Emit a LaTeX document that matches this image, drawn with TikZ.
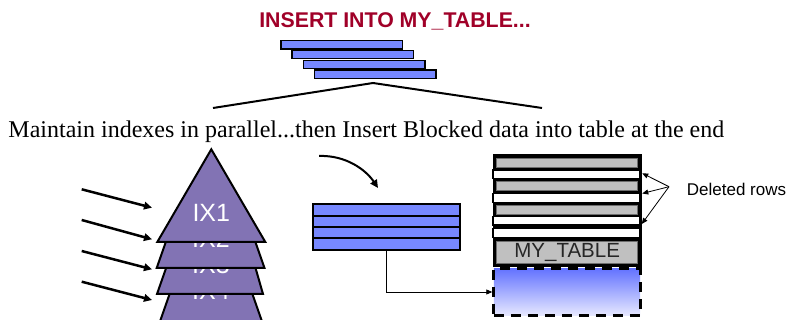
\documentclass[tikz,border=0pt]{standalone}
\usepackage{fontspec}
\setmainfont{Liberation Serif}
\setsansfont{Liberation Sans}
\usetikzlibrary{arrows.meta,calc}
\definecolor{titlered}{RGB}{160,0,40}
\definecolor{barblue}{RGB}{119,136,255}
\definecolor{ixpurple}{RGB}{130,115,180}
\definecolor{rowgray}{RGB}{192,192,192}
\definecolor{rowedge}{RGB}{110,110,110}
\definecolor{newtop}{RGB}{100,115,255}
\definecolor{newbot}{RGB}{230,232,255}
\begin{document}
\begin{tikzpicture}[x=1pt,y=-1pt,
  topbar/.style={draw=black,line width=1.5pt,fill=barblue,minimum width=121.5pt,minimum height=8.3pt,inner sep=0pt},
  blkrow/.style={draw=black,line width=2pt,fill=barblue,minimum width=146.7pt,minimum height=11.4pt,inner sep=0pt},
  tri/.style={draw=black,line width=2pt,fill=ixpurple},
  ixlabel/.style={text=white,font=\sffamily\fontsize{25}{28}\selectfont,anchor=base,inner sep=0pt},
  grayrow/.style={draw=rowedge,line width=0.8pt,fill=rowgray,minimum width=141pt,inner sep=0pt},
  whiterow/.style={draw=black,line width=1.5pt,fill=white,minimum width=147.2pt,inner sep=0pt},
  bigarrow/.style={line width=2.5pt,-{Triangle[length=8pt,width=7.5pt]}},
  thinarrow/.style={line width=0.8pt,-{Triangle[length=6pt,width=5pt]}},
]
\useasboundingbox (0,0) rectangle (796,320);

% title
\node[anchor=base,inner sep=0pt,text=titlered,font=\sffamily\bfseries\fontsize{21.3}{24}\selectfont] (title) at (395,27.7) {INSERT INTO MY\_TABLE...};

% top stacked bars
\node[topbar] (b1) at (341.5,44.7) {};
\node[topbar] (b2) at (352.8,54.6) {};
\node[topbar] (b3) at (364.1,64.5) {};
\node[topbar] (b4) at (375.4,74.2) {};

% fan lines
\coordinate (apex) at (373,83);
\coordinate (vl) at (213,108);
\coordinate (vr) at (542,108);
\draw[line width=2pt] (vl) -- (apex) -- (vr);

% main caption
\node[anchor=base west,inner sep=0pt,font=\fontsize{24}{28}\selectfont] (caption) at (8.3,138) {Maintain indexes in parallel...then Insert Blocked data into table at the end};

% index triangles (back to front)
\begin{scope}
\clip (0,0) rectangle (796,320);
\filldraw[tri] (157,330) -- (171.7,288) -- (250.3,288) -- (265,330) -- cycle;
\node[ixlabel] (ix4) at (211,299.7) {IX4};
\end{scope}
\filldraw[tri] (157,294) -- (168.2,262) -- (253.8,262) -- (263,294) -- cycle;
\node[ixlabel] (ix3) at (211,273.7) {IX3};
\filldraw[tri] (156.7,268) -- (167.9,236) -- (253.3,236) -- (264.5,268) -- cycle;
\node[ixlabel] (ix2) at (211,247.7) {IX2};
\filldraw[tri] (157.3,242) -- (211.3,149.3) -- (265.3,242) -- cycle;
\node[ixlabel] (ix1) at (211.3,221.7) {IX1};

% incoming arrows
\coordinate (s1) at (81.7,189.3); \coordinate (t1) at (152,207.7);
\coordinate (s2) at (81.7,220);   \coordinate (t2) at (152,239.3);
\coordinate (s3) at (81.7,251);   \coordinate (t3) at (152,269.3);
\coordinate (s4) at (81.7,281.7); \coordinate (t4) at (152,300);
\draw[bigarrow] (s1) -- (t1);
\draw[bigarrow] (s2) -- (t2);
\draw[bigarrow] (s3) -- (t3);
\draw[bigarrow] (s4) -- (t4);

% curved arrow
\coordinate (cs) at (319,156);
\coordinate (ce) at (378,188);
\draw[line width=2pt,-{Triangle[length=8pt,width=7.5pt]}] (cs) .. controls (346,155) and (366,170) .. (ce);

% blocked data
\node[blkrow] (r1) at (386.7,210) {};
\node[blkrow] (r2) at (386.7,221.4) {};
\node[blkrow] (r3) at (386.7,232.8) {};
\node[blkrow] (r4) at (386.7,244.2) {};

% table
\node[fill=black,minimum width=149.2pt,minimum height=112.7pt,inner sep=0pt,anchor=north west] (frame) at (492.3,154.3) {};
\node[grayrow,minimum height=8.5pt] (g1) at (567.2,162.8) {};
\node[whiterow,minimum height=8.5pt] (w1) at (566.4,174.3) {};
\node[grayrow,minimum height=9pt] (g2) at (567.2,185.9) {};
\node[whiterow,minimum height=9.1pt] (w2) at (566.4,198) {};
\node[grayrow,minimum height=8.6pt] (g3) at (567.2,209.7) {};
\node[whiterow,minimum height=8.5pt] (w3) at (566.4,221) {};
\node[whiterow,minimum height=9.1pt] (w4) at (566.4,233) {};
\node[grayrow,minimum height=22pt,font=\sffamily\fontsize{20.5}{23}\selectfont,text=black!85] (mytab) at (567.2,252) {MY\_TABLE};

% new blocked area
\node[draw=black,line width=3pt,dash pattern=on 10pt off 7pt,top color=newtop,bottom color=newbot,minimum width=146.4pt,minimum height=46.4pt,inner sep=0pt] (newarea) at (567,292) {};

% connector from blocked data to new area
\draw[thinarrow] (r4.south) |- (newarea.west);

% deleted rows
\node[anchor=base west,inner sep=0pt,font=\sffamily\fontsize{17}{20}\selectfont] (del) at (686.7,196) {Deleted rows};
\coordinate (dsrc) at (669,186.7);
\draw[thinarrow] (dsrc) -- ($(w1.east)+(1.5,-1)$);
\draw[thinarrow] (dsrc) -- ($(w2.east)+(1.5,-4.5)$);
\draw[thinarrow] (dsrc) -- ($(w3.east)+(1,3)$);
\end{tikzpicture}
\end{document}
